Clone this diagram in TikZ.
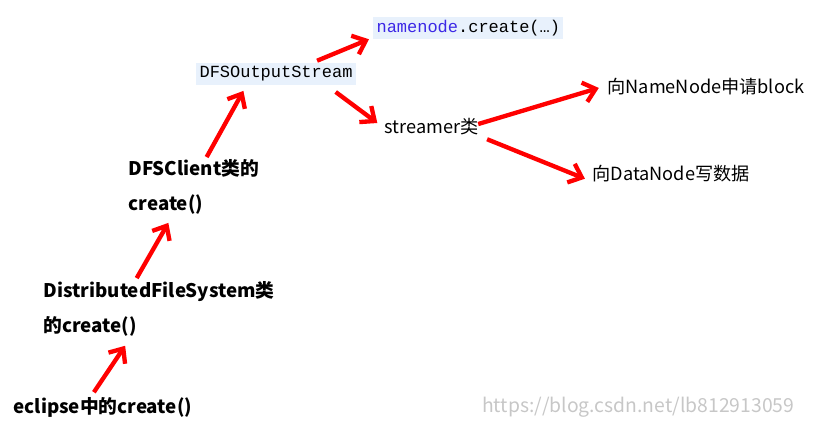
\documentclass[tikz,border=0pt]{standalone}
\usepackage{fontspec}
\setmainfont{Noto Sans CJK SC}
\setmonofont{Liberation Mono}
\usetikzlibrary{positioning,arrows.meta}
\definecolor{codebg}{RGB}{232,241,252}
\definecolor{kw}{RGB}{60,40,230}
\tikzset{
  redarrow/.style={draw=red,line width=1.3mm,-{Straight Barb[length=3.5mm,width=6mm]},shorten <=1mm,shorten >=1mm},
  code/.style={fill=codebg,font=\ttfamily\fontsize{14.5}{16}\selectfont,inner sep=1mm},
  txt/.style={font=\fontsize{15.5}{17}\selectfont,inner sep=1mm},
  bold/.style={font=\bfseries\fontsize{16}{30}\selectfont,align=left,inner sep=1mm}
}
\begin{document}
\begin{tikzpicture}[x=0.03cm,y=-0.03cm]
\useasboundingbox (0,0) rectangle (822,427);
\node[code,anchor=west](nn) at (373,28){\textcolor{kw}{namenode}.create(\dots)};
\node[code,anchor=west](out) at (196,74){DFSOutputStream};
\node[txt,anchor=west](st) at (381,127){streamer类};
\node[txt,anchor=west](nnb) at (604,87){向NameNode申请block};
\node[txt,anchor=west](dn) at (589,174){向DataNode写数据};
\node[bold,anchor=north west](cl) at (125,156){DFSClient类的\\create()};
\node[bold,anchor=north west](dfs) at (40,278){DistributedFileSystem类\\的create()};
\node[bold,anchor=west](ec) at (10,407){eclipse中的create()};
\node[font=\fontsize{16.5}{18}\selectfont,text=black!22,anchor=west](wm) at (478,407){https://blog.csdn.net/lb812913059};

\coordinate (a1) at (92,395); \coordinate (b1) at (127,343);
\coordinate (a2) at (135,281); \coordinate (b2) at (170,220);
\coordinate (a3) at (205,160); \coordinate (b3) at (245,88);
\coordinate (a4) at (314,62); \coordinate (b4) at (372,38);
\coordinate (a5) at (333,90); \coordinate (b5) at (380,125);
\coordinate (a6) at (475,125); \coordinate (b6) at (602,87);
\coordinate (a7) at (484,138); \coordinate (b7) at (588,180);
\foreach \i in {1,...,7}
  \draw[redarrow] (a\i) -- (b\i);
\end{tikzpicture}
\end{document}
